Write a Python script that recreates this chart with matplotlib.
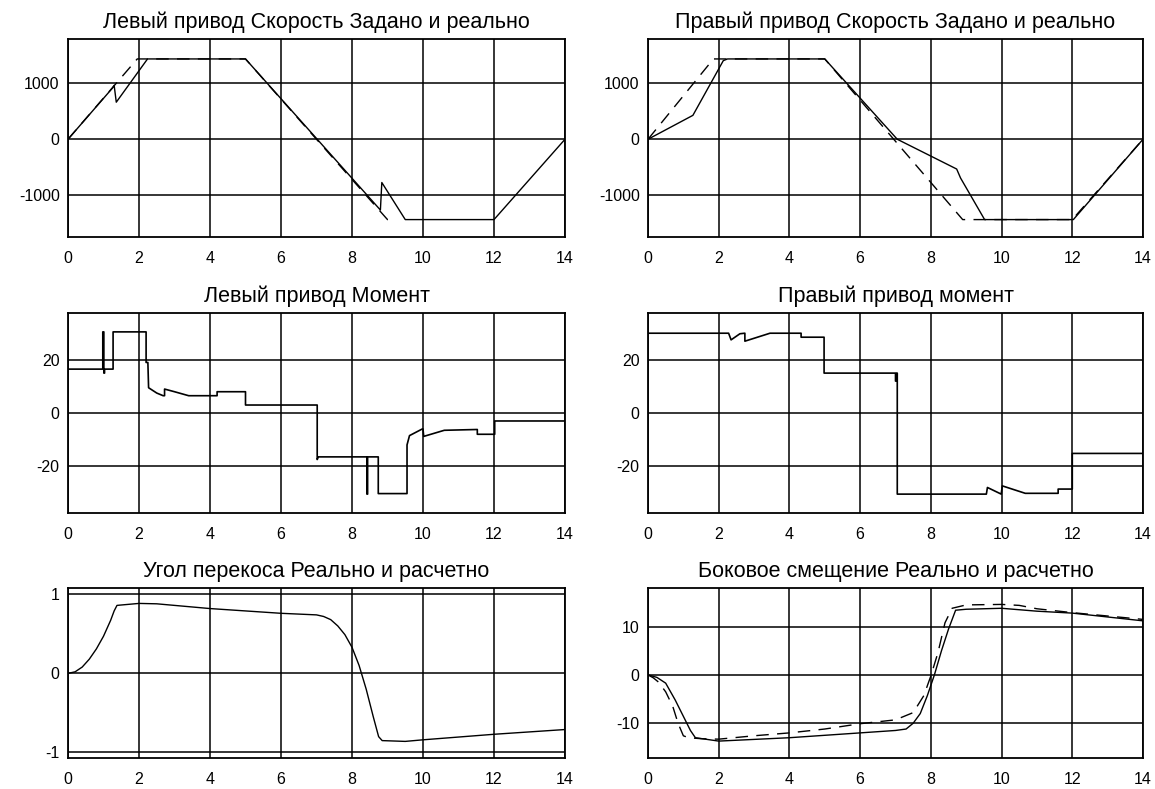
import matplotlib
matplotlib.use("Agg")
import matplotlib.pyplot as plt

plt.rcParams['font.family'] = ['Liberation Sans', 'DejaVu Sans']
plt.rcParams['axes.unicode_minus'] = False

# ---------------- data ----------------
titles = ["Левый привод Скорость Задано и реально",
          "Правый привод Скорость Задано и реально",
          "Левый привод Момент",
          "Правый привод момент",
          "Угол перекоса Реально и расчетно",
          "Боковое смещение Реально и расчетно"]
x_ticks = [0, 2, 4, 6, 8, 10, 12, 14]

# left drive speed
lspd_cmd_t = [0, 1.95, 5.0, 9.0, 9.2]
lspd_cmd_v = [0, 1430, 1430, -1430, -1430]
lspd_real_t = [0, 1.25, 1.30, 1.36, 2.24, 5.0, 8.80, 8.84, 8.90, 9.50, 12.0, 14.0]
lspd_real_v = [0, 910, 960, 660, 1430, 1430, -1260, -770, -830, -1430, -1430, 0]

# right drive speed
rspd_cmd_t = [0, 1.85, 5.0, 8.9, 12.0, 14.0]
rspd_cmd_v = [0, 1430, 1430, -1430, -1430, 0]
rspd_real_t = [0, 1.27, 2.13, 2.25, 5.0, 7.05, 8.73, 8.84, 9.52, 12.03, 14.0]
rspd_real_v = [0, 426, 1400, 1430, 1430, 0, -530, -690, -1430, -1430, 0]

# left drive torque
ltq_t = [0, 0.98, 0.98, 1.01, 1.01, 1.03, 1.03, 1.27, 1.27, 2.20, 2.20, 2.25, 2.27, 2.50,
         2.68, 2.72, 2.72, 3.00, 3.40, 4.20, 4.20, 5.00, 5.00, 7.02, 7.02, 7.05, 8.42,
         8.42, 8.44, 8.44, 8.74, 8.74, 9.55, 9.55, 9.62, 9.98, 10.00, 10.02, 10.60,
         11.53, 11.53, 12.02, 12.02, 14.0]
ltq_v = [16.5, 16.5, 30.5, 30.5, 15.0, 15.0, 16.5, 16.5, 30.5, 30.5, 19.0, 19.0, 9.5, 7.5,
         6.5, 6.5, 9.0, 8.0, 6.5, 6.5, 8.0, 8.0, 3.0, 3.0, -17.5, -16.5, -16.5,
         -30.5, -30.5, -16.5, -16.5, -30.3, -30.3, -12.0, -8.5, -6.0, -6.0, -8.8, -6.5,
         -6.2, -8.0, -8.0, -3.0, -3.0]

# right drive torque
rtq_t = [0, 2.28, 2.35, 2.60, 2.74, 2.74, 3.38, 3.45, 4.33, 4.33, 4.98, 4.98, 7.00, 7.00,
         7.03, 7.03, 7.05, 7.05, 9.57, 9.60, 9.99, 10.02, 10.67, 11.60, 11.60, 12.00,
         12.00, 14.0]
rtq_v = [30.0, 30.0, 27.5, 29.8, 30.0, 27.0, 29.7, 30.0, 30.0, 28.5, 28.5, 15.0, 15.0, 12.0,
         12.0, 15.0, 15.0, -30.5, -30.5, -28.0, -30.5, -27.4, -30.2, -30.2, -28.6, -28.6,
         -15.2, -15.2]

# skew angle
ang_t = [0, 0.2, 0.4, 0.6, 0.8, 1.0, 1.2, 1.3, 1.38, 1.5, 2.0, 2.5, 4.0, 6.0, 7.0, 7.2,
         7.4, 7.6, 7.8, 8.0, 8.2, 8.4, 8.6, 8.75, 8.85, 9.5, 10.0, 12.0, 14.0]
ang_v = [0, 0.02, 0.08, 0.18, 0.31, 0.47, 0.67, 0.79, 0.86, 0.865, 0.885, 0.88, 0.82, 0.76,
         0.74, 0.72, 0.68, 0.60, 0.49, 0.33, 0.10, -0.20, -0.55, -0.80, -0.85, -0.86, -0.84,
         -0.77, -0.71]

# lateral offset
off_real_t = [0, 0.25, 0.50, 0.77, 1.05, 1.20, 1.34, 2.0, 4.0, 6.0, 7.0, 7.3, 7.5, 7.7,
              7.9, 8.1, 8.3, 8.5, 8.7, 9.0, 10.0, 11.0, 12.0, 13.0, 14.0]
off_real_v = [0, -0.5, -1.7, -5.2, -9.3, -11.5, -13.0, -13.7, -13.0, -12.0, -11.5, -11.2,
              -10.0, -8.0, -4.3, 0.0, 5.0, 9.5, 13.4, 13.6, 13.8, 13.2, 12.8, 12.0, 11.2]
off_calc_t = [0, 0.15, 0.30, 0.50, 0.70, 0.85, 1.00, 1.15, 1.5, 2.0, 3.0, 4.0, 5.0, 6.0,
              7.0, 7.5, 7.8, 8.0, 8.2, 8.4, 8.6, 9.0, 10.0, 10.5, 11.0, 12.0, 13.0, 14.0]
off_calc_v = [0, -0.6, -1.5, -3.5, -6.5, -10.0, -12.6, -13.0, -13.2, -13.3, -12.6, -12.0,
              -11.2, -10.1, -9.3, -7.8, -4.3, -0.2, 4.6, 10.8, 13.8, 14.5, 14.6, 14.4,
              13.7, 12.9, 12.2, 11.5]

# ---------------- layout ----------------
W, H = 1155, 789
fig = plt.figure(figsize=(W / 100, H / 100), dpi=100)


def ax_at(x0, y0, x1, y1):
    return fig.add_axes([x0 / W, 1 - y1 / H, (x1 - x0) / W, (y1 - y0) / H])


cols = [(68, 565), (648, 1143)]
rows = [(39, 237), (313, 513), (588, 758)]
ylims = [[(-1740, 1785), (-1740, 1785)],
         [(-37.6, 37.6), (-37.6, 37.6)],
         [(-1.07, 1.08), (-17.2, 18.0)]]
yticks = [[[-1000, 0, 1000], [-1000, 0, 1000]],
          [[-20, 0, 20], [-20, 0, 20]],
          [[-1, 0, 1], [-10, 0, 10]]]

dash = (0, (9, 6))
LW = 1.0

axes = []
k = 0
for r in range(3):
    for c in range(2):
        ax = ax_at(cols[c][0], rows[r][0], cols[c][1], rows[r][1])
        ax.set_xlim(0, 14)
        ax.set_ylim(*ylims[r][c])
        ax.set_xticks(x_ticks)
        ax.set_yticks(yticks[r][c])
        ax.grid(True, color='black', linewidth=1.1, linestyle='-')
        ax.set_axisbelow(True)
        ax.tick_params(length=0, labelsize=11.5, colors='black')
        ax.tick_params(axis='x', pad=10)
        ax.tick_params(axis='y', pad=6)
        for s in ax.spines.values():
            s.set_linewidth(1.3)
            s.set_color('black')
        ax.set_title(titles[k], fontsize=15.5, pad=8)
        axes.append(ax)
        k += 1

a = axes
a[0].plot(lspd_cmd_t, lspd_cmd_v, color='black', lw=LW, linestyle=dash)
a[0].plot(lspd_real_t, lspd_real_v, color='black', lw=LW)
a[1].plot(rspd_cmd_t, rspd_cmd_v, color='black', lw=LW, linestyle=dash)
a[1].plot(rspd_real_t, rspd_real_v, color='black', lw=LW)
a[2].plot(ltq_t, ltq_v, color='black', lw=LW + 0.2)
a[3].plot(rtq_t, rtq_v, color='black', lw=LW + 0.2)
a[4].plot(ang_t, ang_v, color='black', lw=LW)
a[5].plot(off_calc_t, off_calc_v, color='black', lw=LW, linestyle=dash)
a[5].plot(off_real_t, off_real_v, color='black', lw=LW)

fig.savefig("out.png", dpi=100, facecolor='white')
